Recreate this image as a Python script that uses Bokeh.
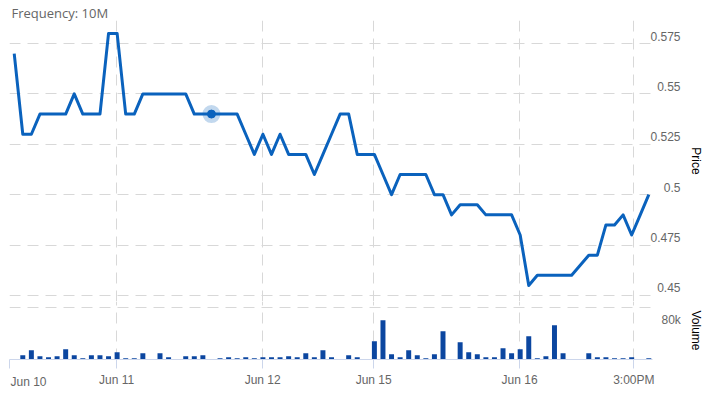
from bokeh.plotting import figure
from bokeh.layouts import column
from bokeh.models import FixedTicker, Range1d, Title
from bokeh.embed import file_html
from bokeh.resources import INLINE

# ---- data ----
price = [0.57, 0.53, 0.53, 0.54, 0.54, 0.54, 0.54, 0.55, 0.54, 0.54,
         0.54, 0.58, 0.58, 0.54, 0.54, 0.55, 0.55, 0.55, 0.55, 0.55,
         0.55, 0.54, 0.54, 0.54, 0.54, 0.54, 0.54, 0.53, 0.52, 0.53,
         0.52, 0.53, 0.52, 0.52, 0.52, 0.51, 0.52, 0.53, 0.54, 0.54,
         0.52, 0.52, 0.52, 0.51, 0.50, 0.51, 0.51, 0.51, 0.51, 0.50,
         0.50, 0.49, 0.495, 0.495, 0.495, 0.49, 0.49, 0.49, 0.49, 0.48,
         0.455, 0.46, 0.46, 0.46, 0.46, 0.46, 0.465, 0.47, 0.47, 0.485,
         0.485, 0.49, 0.48, 0.49, 0.50]
volume = [0, 6600, 14300, 5100, 3500, 5100, 15800, 6600, 2000, 6600,
          6600, 5100, 11200, 2000, 2000, 9700, 0, 9700, 3500, 0,
          5100, 5100, 6600, 0, 2000, 3500, 2000, 3500, 2000, 3500,
          3500, 3500, 5100, 3500, 9700, 3500, 14300, 3500, 0, 6600,
          3500, 0, 28100, 60400, 8200, 3500, 14300, 6600, 2000, 8200,
          43500, 0, 26600, 11200, 8200, 3500, 3500, 17400, 9700, 15800,
          35800, 2000, 5100, 52800, 9700, 0, 0, 9700, 3500, 3500,
          2000, 2000, 3500, 0, 2000]
idx = list(range(len(price)))
hover_index = 23

x_tick_pos = [-0.55, 11.93, 28.97, 41.92, 58.93, 72.25]
x_tick_labels = ["Jun 10", "Jun 11", "Jun 12", "Jun 15", "Jun 16", "3:00PM"]
price_ticks = [0.45, 0.475, 0.5, 0.525, 0.55, 0.575]
price_tick_labels = ["0.45", "0.475", "0.5", "0.525", "0.55", "0.575"]
vol_ticks = [80000]
vol_tick_labels = ["80k"]

# ---- style / layout ----
LINE = "#0a62bd"
BAR = "#0b46a0"
GRID = "#d8d8d8"
LABEL = "#666666"
FONT = "Liberation Sans"
DASH = "11 7"
FRAME_W = 643
PRICE_H = 281
VOL_H = 58
PRICE_RANGE = (0.44702, 0.58641)
VOL_RANGE = (0, 80000 * 58 / 52)
PRICE_LABEL_UP_PX = 7      # price labels sit a little above their grid line
VOL_LABEL_DOWN_PX = 12     # volume label sits below its grid line
FIGSP = "\u2007"           # figure space: right-aligns the numeric labels

x_range = Range1d(-0.55, 74.43)

p1 = figure(frame_width=FRAME_W, frame_height=PRICE_H, x_range=x_range,
            y_range=Range1d(*PRICE_RANGE), x_axis_location=None,
            y_axis_location="right", output_backend="svg", toolbar_location=None,
            min_border_left=9, min_border_right=62, min_border_top=20,
            min_border_bottom=0)
p1.outline_line_color = None
p1.title.text = "Frequency: 10M"
p1.title.text_font = "Open Sans"
p1.title.text_font_size = "13px"
p1.title.text_font_style = "normal"
p1.title.text_color = "#666666"
p1.title.align = "left"
p1.title.offset = 2
p1.title.standoff = -3

p1.xgrid.ticker = FixedTicker(ticks=x_tick_pos)
p1.ygrid.ticker = FixedTicker(ticks=price_ticks)
for g in (p1.xgrid, p1.ygrid):
    g.grid_line_color = GRID
    g.grid_line_dash = DASH
    g.grid_line_width = 1

shift = PRICE_LABEL_UP_PX * (PRICE_RANGE[1] - PRICE_RANGE[0]) / PRICE_H
label_pos = [t + shift for t in price_ticks]
w = max(len(s) for s in price_tick_labels)
padded = [FIGSP * (w - len(s)) + s for s in price_tick_labels]
ax = p1.yaxis[0]
ax.ticker = FixedTicker(ticks=label_pos)
ax.major_label_overrides = dict(zip(label_pos, padded))
ax.axis_line_color = None
ax.major_tick_line_color = None
ax.minor_tick_line_color = None
ax.major_tick_out = 0
ax.major_tick_in = 0
ax.major_label_text_color = LABEL
ax.major_label_text_font = FONT
ax.major_label_text_font_size = "12px"
ax.major_label_standoff = -2
ax.axis_label = "Price"
ax.axis_label_text_font = FONT
ax.axis_label_text_font_size = "12px"
ax.axis_label_text_font_style = "normal"
ax.axis_label_text_color = "black"
ax.axis_label_standoff = 5

p1.line(idx, price, line_width=3, color=LINE, line_join="round")
p1.scatter([idx[hover_index]], [price[hover_index]], size=18, fill_color=LINE,
           fill_alpha=0.25, line_color=None)
p1.scatter([idx[hover_index]], [price[hover_index]], size=8, fill_color=LINE,
           line_color=LINE, line_width=1)

p2 = figure(frame_width=FRAME_W, frame_height=VOL_H, x_range=x_range,
            y_range=Range1d(*VOL_RANGE), y_axis_location="right",
            output_backend="svg", toolbar_location=None,
            min_border_left=9, min_border_right=62, min_border_top=0,
            min_border_bottom=38)
p2.outline_line_color = None
p2.xgrid.ticker = FixedTicker(ticks=x_tick_pos)
p2.ygrid.ticker = FixedTicker(ticks=vol_ticks)
for g in (p2.xgrid, p2.ygrid):
    g.grid_line_color = GRID
    g.grid_line_dash = DASH
    g.grid_line_width = 1

xa = p2.xaxis[0]
xa.ticker = FixedTicker(ticks=x_tick_pos)
overrides = dict(zip(x_tick_pos, x_tick_labels))
overrides[x_tick_pos[0]] = ""      # first label is drawn left-aligned below
xa.major_label_overrides = overrides
xa.axis_line_color = "#ccd6eb"
xa.major_tick_line_color = "#ccd6eb"
xa.major_tick_in = 0
xa.major_tick_out = 9
xa.minor_tick_line_color = None
xa.major_label_text_color = LABEL
xa.major_label_text_font = FONT
xa.major_label_text_font_size = "12px"
xa.major_label_standoff = 4

vshift = VOL_LABEL_DOWN_PX * (VOL_RANGE[1] - VOL_RANGE[0]) / VOL_H
vlabel_pos = [t - vshift for t in vol_ticks]
va = p2.yaxis[0]
va.ticker = FixedTicker(ticks=vlabel_pos)
va.major_label_overrides = dict(zip(vlabel_pos, vol_tick_labels))
va.axis_line_color = None
va.major_tick_line_color = None
va.minor_tick_line_color = None
va.major_tick_out = 0
va.major_tick_in = 0
va.major_label_text_color = LABEL
va.major_label_text_font = FONT
va.major_label_text_font_size = "12px"
va.major_label_standoff = 9
va.axis_label = "Volume"
va.axis_label_text_font = FONT
va.axis_label_text_font_size = "12px"
va.axis_label_text_font_style = "normal"
va.axis_label_text_color = "black"
va.axis_label_standoff = 5

p2.vbar(x=idx, top=volume, width=0.58, fill_color=BAR, line_color=None)

first = Title(text=x_tick_labels[0], align="left", offset=1, standoff=-30,
              vertical_align="top", text_font=FONT, text_font_size="12px",
              text_font_style="normal", text_color=LABEL)
p2.add_layout(first, "below")

layout = column(p1, p2, spacing=0)
open("out.html", "w").write(file_html(layout, INLINE))
